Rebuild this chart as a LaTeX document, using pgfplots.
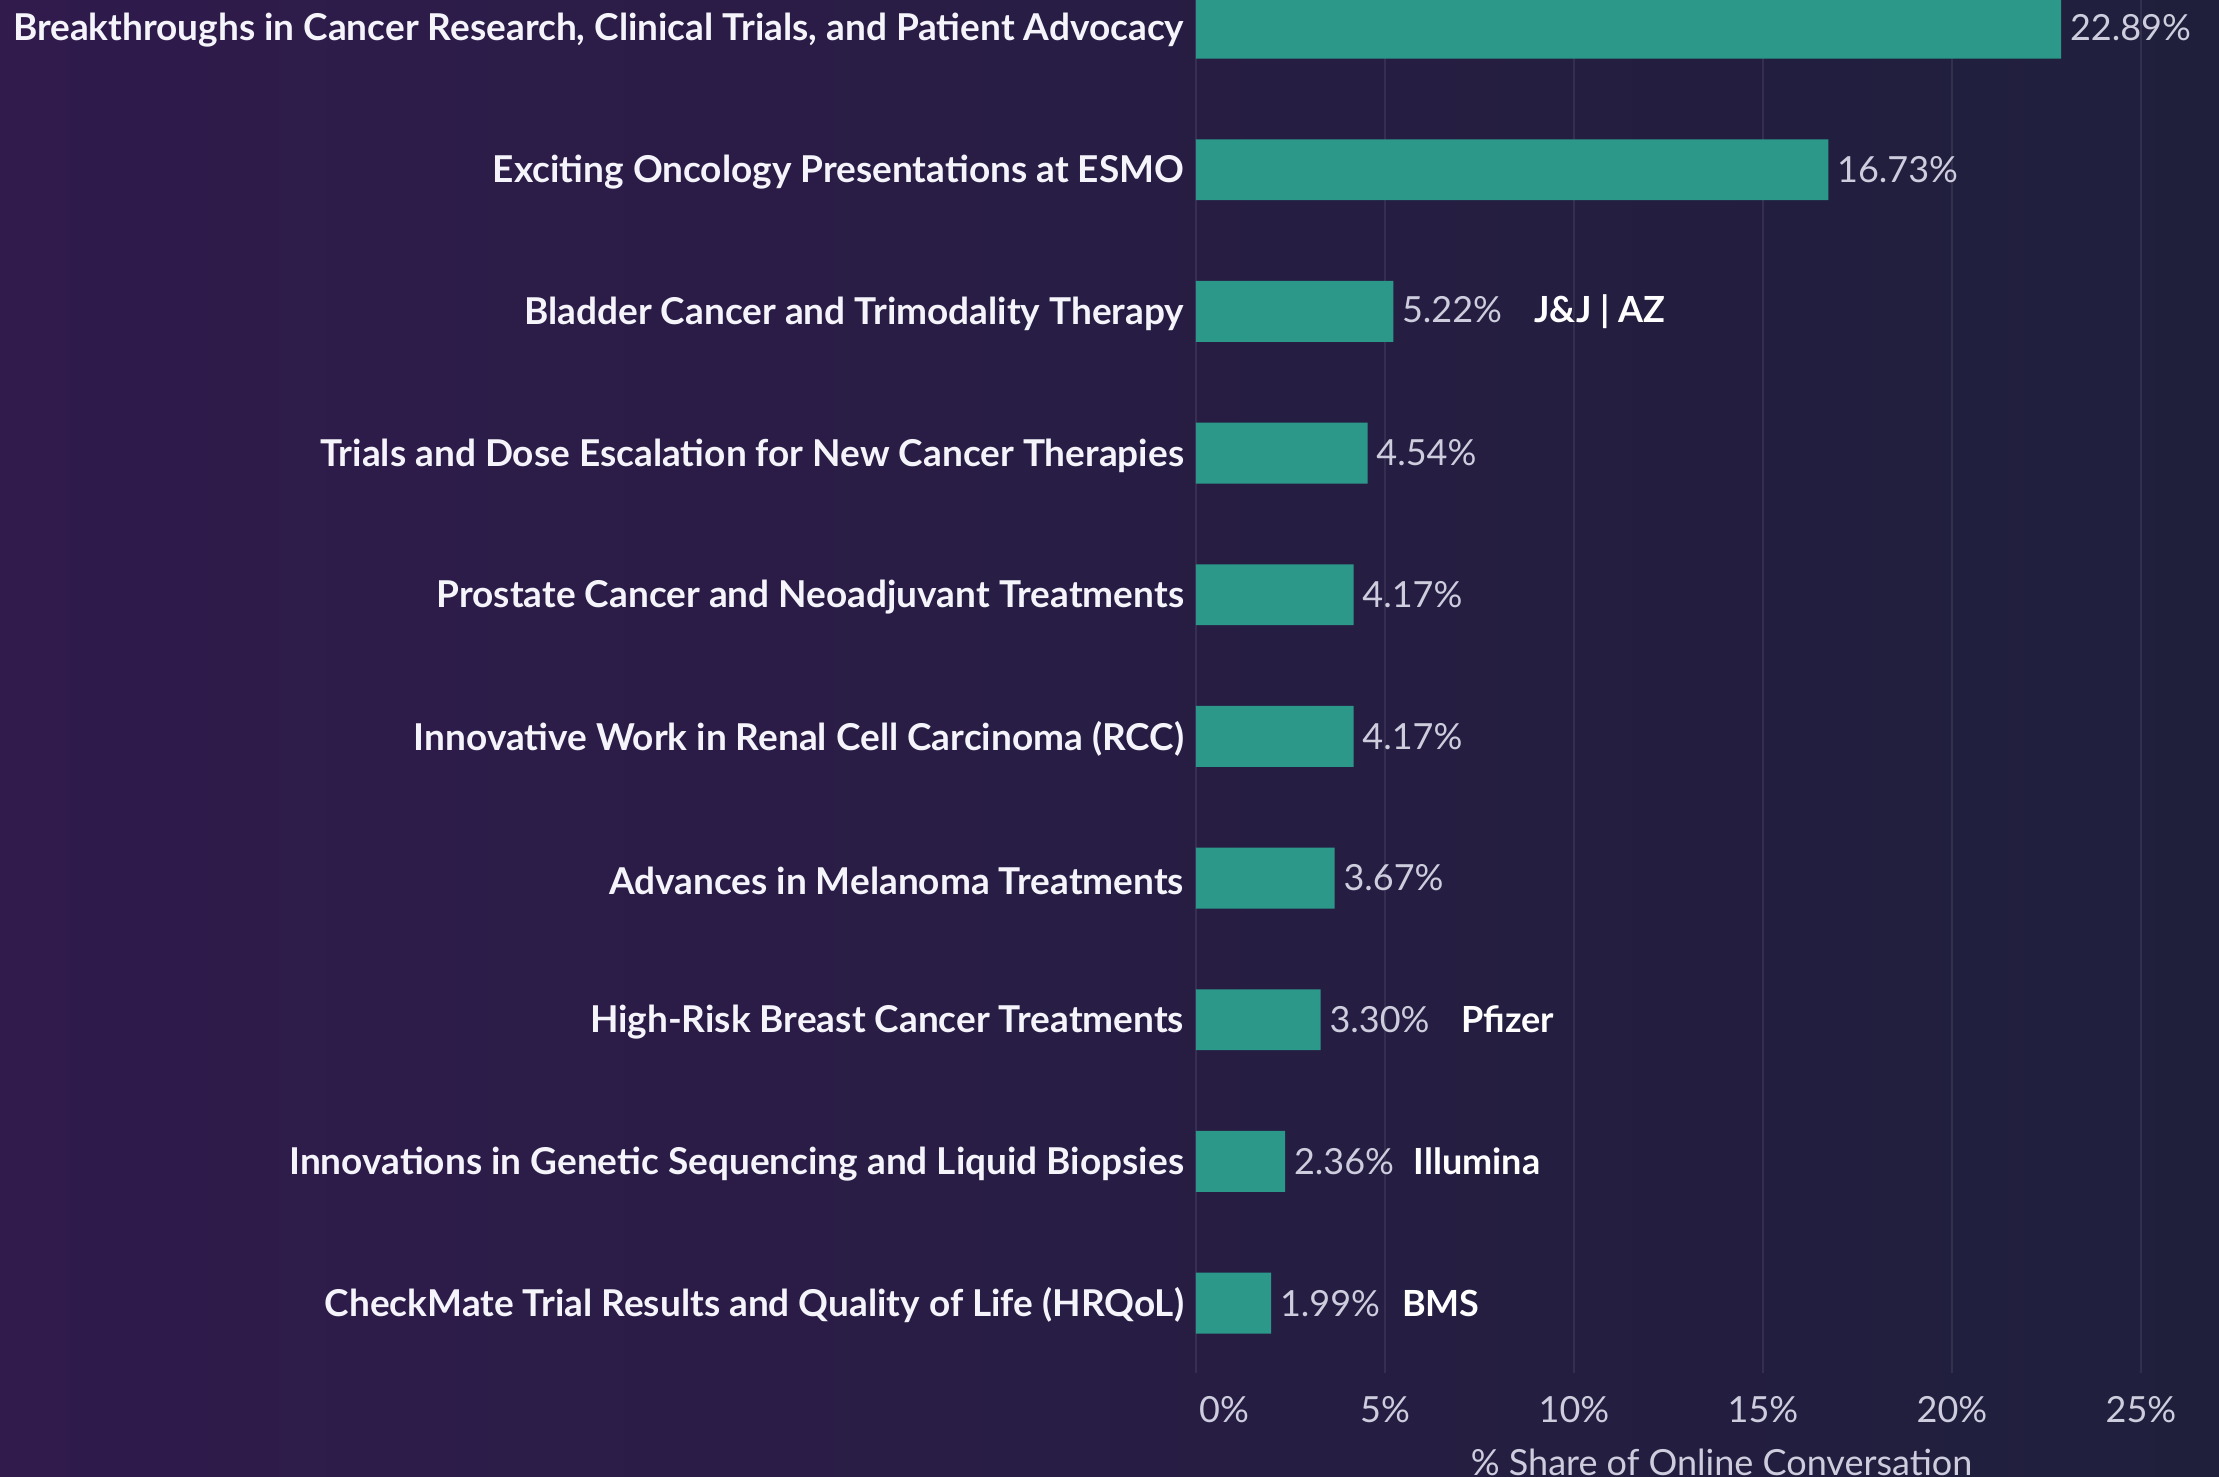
\documentclass[border=0pt]{standalone}
\usepackage{pgfplots}
\pgfplotsset{compat=1.18}
\usepackage{fontspec}
\setmainfont{Lato}
\definecolor{barc}{RGB}{44,152,137}
\definecolor{bgL}{RGB}{48,27,76}
\definecolor{bgM}{RGB}{38,31,68}
\definecolor{bgR}{RGB}{31,31,60}
\definecolor{valc}{RGB}{205,205,222}
\definecolor{catc}{RGB}{244,244,250}
\begin{document}
\begin{tikzpicture}
\useasboundingbox (0,0) rectangle (554.75pt,-369.25pt);
\shade[left color=bgL, middle color=bgM, right color=bgR] (0,0) rectangle (554.75pt,-369.25pt);
\begin{axis}[
  at={(299pt,0pt)}, anchor=north west,
  scale only axis, width=255.15pt, height=343.25pt,
  xmin=0, xmax=27, ymin=-0.198, ymax=9.494, y dir=reverse,
  xbar, bar width=0.43,
  axis line style={draw=none}, major tick length=0pt,
  xmajorgrids, major grid style={white, opacity=0.08, line width=0.6pt},
  xtick={0,5,10,15,20,25},
  xticklabels={\hspace*{14pt}0\%,5\%,10\%,15\%,20\%,25\%},
  xticklabel style={anchor=center, inner sep=0pt, yshift=-9.25pt, font=\fontsize{9}{10}\selectfont, text=valc},
  ytick={0,...,9},
  yticklabels={{Breakthroughs in Cancer Research, Clinical Trials, and Patient Advocacy},
    {Exciting Oncology Presentations at ESMO},
    {Bladder Cancer and Trimodality Therapy},
    {Trials and Dose Escalation for New Cancer Therapies},
    {Prostate Cancer and Neoadjuvant Treatments},
    {Innovative Work in Renal Cell Carcinoma (RCC)},
    {Advances in Melanoma Treatments},
    {High-Risk Breast Cancer Treatments},
    {Innovations in Genetic Sequencing and Liquid Biopsies},
    {CheckMate Trial Results and Quality of Life (HRQoL)}},
  yticklabel style={anchor=east, inner xsep=0pt, xshift=-2.8pt, yshift=-0.6pt, font=\fontsize{9.25}{10}\selectfont\bfseries, text=catc},
  xlabel={\% Share of Online Conversation},
  xlabel style={at={(axis description cs:0.515,0)}, anchor=center, yshift=-22.25pt, font=\fontsize{9}{10}\selectfont, text=valc},
  point meta=explicit symbolic,
  nodes near coords,
  nodes near coords style={anchor=west, inner xsep=2pt, font=\fontsize{9}{10}\selectfont, text=valc},
]
\addplot[fill=barc, draw=none] coordinates {
  (22.89,0) [22.89\%]
  (16.73,1) [16.73\%]
  (5.22,2) [5.22\%\hspace{8pt}{\color{white}\bfseries J\&J | AZ}]
  (4.54,3) [4.54\%]
  (4.17,4) [4.17\%]
  (4.17,5) [4.17\%]
  (3.67,6) [3.67\%]
  (3.30,7) [3.30\%\hspace{8pt}{\color{white}\bfseries Pfizer}]
  (2.36,8) [2.36\%\hspace{5pt}{\color{white}\bfseries Illumina}]
  (1.99,9) [1.99\%\hspace{5.5pt}{\color{white}\bfseries BMS}]
};
\end{axis}
\end{tikzpicture}
\end{document}
